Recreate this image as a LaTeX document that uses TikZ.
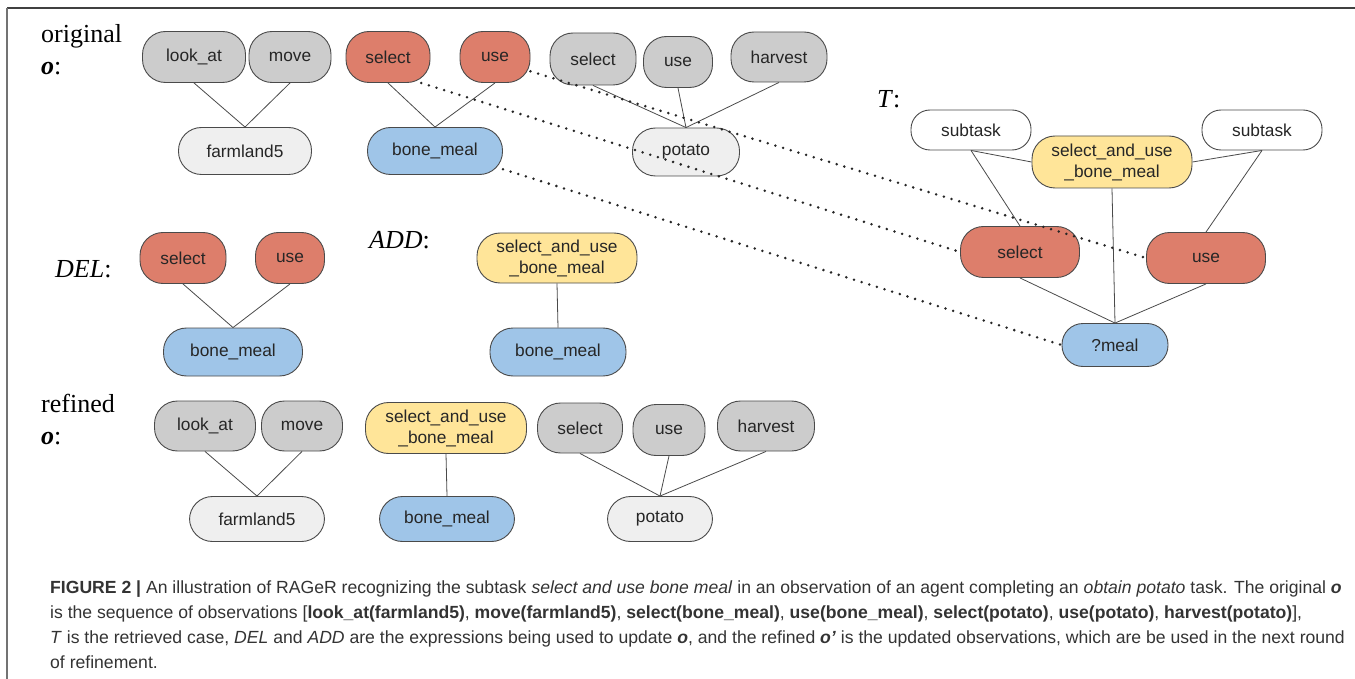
\documentclass[tikz,border=0pt]{standalone}
\usepackage{fontspec}
\setmainfont{Liberation Serif}
\setsansfont{Liberation Sans}
\usepackage{xcolor}
\usetikzlibrary{positioning}
\definecolor{pillred}{HTML}{DD7E6B}
\definecolor{pillblue}{HTML}{9FC5E8}
\definecolor{pillyellow}{HTML}{FFE599}
\definecolor{pillgrey}{HTML}{CCCCCC}
\definecolor{pilllight}{HTML}{EFEFEF}
\definecolor{pilledge}{HTML}{4A4A4A}
\definecolor{captext}{HTML}{333333}

\begin{document}
\begin{tikzpicture}[x=1pt,y=-1pt,
pill/.style={draw=pilledge,line width=0.9pt,rectangle,rounded corners=23pt,minimum height=51pt,inner sep=2pt,font=\sffamily\fontsize{17.3}{20}\selectfont,text=black!85},
grey/.style={pill,fill=pillgrey},
light/.style={pill,fill=pilllight,minimum height=47pt},
red/.style={pill,fill=pillred},
blue/.style={pill,fill=pillblue,minimum height=47pt},
yellow/.style={pill,fill=pillyellow,align=center,font=\sffamily\fontsize{17.3}{21}\selectfont},
white/.style={pill,fill=white,minimum height=40pt,rounded corners=19pt},
lbl/.style={anchor=base west,inner sep=0pt,font=\fontsize{26}{28}\selectfont},
link/.style={draw=pilledge,line width=0.8pt},
match/.style={draw=black!85,line width=2.8pt,line cap=round,dash pattern=on 0pt off 8pt}]
\useasboundingbox (0,0) rectangle (1355,679);
\draw[line width=2pt,black!75] (7,8)--(1355,8);
\draw[line width=1.4pt,black!55] (7,8)--(7,679);
\node[lbl] (origtxt) at (41,43) {original};
\node[lbl] (origo) at (41,75) {\textbf{\textit{o}}:};
\node[lbl] (deltxt) at (55,277) {\textit{DEL}:};
\node[lbl] (addtxt) at (369,249) {\textit{ADD}:};
\node[lbl] (ttxt) at (877,108) {\textit{T}:};
\node[lbl] (reftxt) at (41,412) {refined};
\node[lbl] (refo) at (41,444) {\textbf{\textit{o}}:};
\node[grey,minimum width=103] (ola) at (194,57) {look\_at};
\node[grey,minimum width=82] (omv) at (290,57) {move};
\node[red,minimum width=84] (osel) at (388,57) {select};
\node[red,minimum width=70] (ouse) at (495,57) {use};
\node[light,minimum width=133] (ofarm) at (245,151) {farmland5};
\node[blue,minimum width=135] (obm) at (435,151) {bone\_meal};
\node[grey,minimum width=86,minimum height=52] (ops) at (593,59) {select};
\node[grey,minimum width=69] (opu) at (678,62) {use};
\node[grey,minimum width=96,minimum height=50] (oph) at (779,57) {harvest};
\node[light,minimum width=107,minimum height=48] (opot) at (686,152) {potato};
\node[white,minimum width=120] (tsub1) at (971,130) {subtask};
\node[white,minimum width=120] (tsub2) at (1262,130) {subtask};
\node[yellow,minimum width=160,minimum height=52] (tsu) at (1112,162) {select\_and\_use\\\_bone\_meal};
\node[red,minimum width=119] (tsel) at (1020,252) {select};
\node[red,minimum width=119] (tuse) at (1206,258) {use};
\node[blue,minimum width=106,minimum height=43,rounded corners=21pt] (tmeal) at (1115,345) {?meal};
\node[red,minimum width=86] (dsel) at (183,258) {select};
\node[red,minimum width=69] (duse) at (290,258) {use};
\node[blue,minimum width=139,minimum height=48] (dbm) at (233,352) {bone\_meal};
\node[yellow,minimum width=160,minimum height=50] (asu) at (557,258) {select\_and\_use\\\_bone\_meal};
\node[blue,minimum width=136,minimum height=48] (abm) at (558,352) {bone\_meal};
\node[grey,minimum width=101,minimum height=50] (rla) at (205,426) {look\_at};
\node[grey,minimum width=81,minimum height=50] (rmv) at (302,426) {move};
\node[yellow,minimum width=161] (rsu) at (446,428) {select\_and\_use\\\_bone\_meal};
\node[grey,minimum width=85,minimum height=50] (rps) at (580,428) {select};
\node[grey,minimum width=72] (rpu) at (669,430) {use};
\node[grey,minimum width=97,minimum height=50] (rph) at (766,426) {harvest};
\node[light,minimum width=135,minimum height=45] (rfarm) at (257,519) {farmland5};
\node[blue,minimum width=135,minimum height=45] (rbm) at (447,519) {bone\_meal};
\node[light,minimum width=105,minimum height=45] (rpot) at (660,519) {potato};
\foreach \a/\b in {ola/ofarm,omv/ofarm,osel/obm,ouse/obm,ops/opot,opu/opot,oph/opot,dsel/dbm,duse/dbm,asu/abm,rla/rfarm,rmv/rfarm,rsu/rbm,rps/rpot,rpu/rpot,rph/rpot,tsub1/tsel,tsub2/tuse,tsu/tmeal,tsel/tmeal,tuse/tmeal}
  \draw[link] (\a.south)--(\b.north);
\draw[link] (tsub1.south)--(tsu.west);
\draw[link] (tsub2.south)--(tsu.east);
\draw[match] (ouse.-22)--(tuse.west);
\draw[match] (osel.-38)--(tsel.west);
\draw[match] (obm.-15)--(tmeal.west);
\node[anchor=north west,inner sep=0pt,align=left,text=captext,font=\sffamily\fontsize{17.6}{25}\selectfont] (cap) at (50,581) {\textbf{FIGURE 2 |} An illustration of RAGeR recognizing the subtask \textit{select and use bone meal} in an observation of an agent completing an \textit{obtain potato} task. The original \textbf{\textit{o}}\\
is the sequence of observations [\textbf{look\_at(farmland5)}, \textbf{move(farmland5)}, \textbf{select(bone\_meal)}, \textbf{use(bone\_meal)}, \textbf{select(potato)}, \textbf{use(potato)}, \textbf{harvest(potato)}],\\
\textit{T} is the retrieved case, \textit{DEL} and \textit{ADD} are the expressions being used to update \textbf{\textit{o}}, and the refined \textbf{\textit{o’}} is the updated observations, which are be used in the next round\\
of refinement.};
\end{tikzpicture}
\end{document}
